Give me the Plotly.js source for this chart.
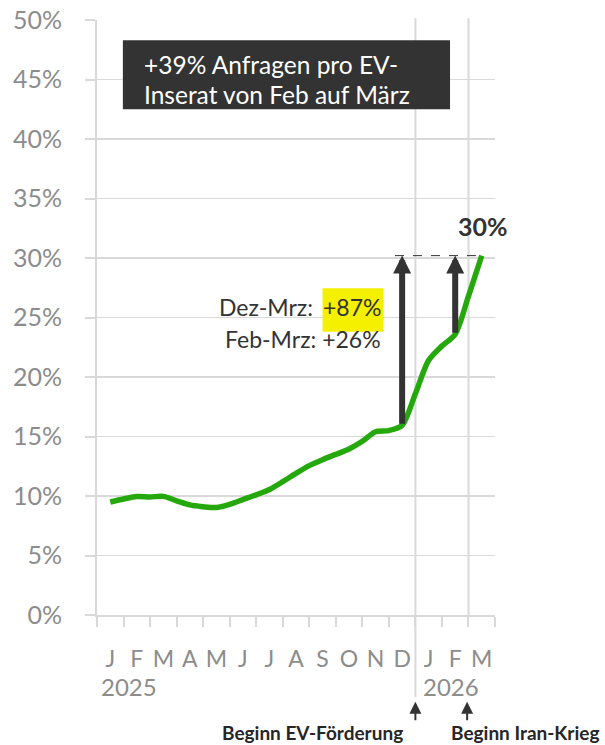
<!DOCTYPE html>
<html>
<head>
<meta charset="utf-8">
<script src="https://cdn.plot.ly/plotly-3.0.1.min.js"></script>
<style>html,body{margin:0;padding:0;background:#fff;}#chart{width:605px;height:745px;}</style>
</head>
<body>
<div id="chart"></div>
<script>
// Month categories (Jan 2025 .. Mar 2026)
var monthLetters = ['J','F','M','A','M','J','J','A','S','O','N','D','J','F','M'];
var yearLabels = ['2025','2026'];
// Semi-monthly sample positions (in months from Jan 2025 start) and share of enquiries per EV listing (%)
var samplePos = [0.5,1.0,1.5,2.0,2.5,3.0,3.5,4.0,4.5,5.0,5.5,6.0,6.5,7.0,7.5,8.0,8.5,9.0,9.5,10.0,10.5,11.0,11.5,12.0,12.5,13.0,13.5,14.0,14.5];
var shareValues = [9.5,9.75,9.95,9.92,9.97,9.6,9.25,9.1,9.03,9.3,9.7,10.1,10.55,11.2,11.9,12.55,13.05,13.5,13.95,14.6,15.4,15.5,15.95,18.6,21.4,22.6,23.6,26.8,30.2];
var yTicks = [0,5,10,15,20,25,30,35,40,45,50];
var yTickText = yTicks.map(function(v){return v+'%';});

var FONT = 'Lato, "Open Sans", sans-serif';
var GRID = '#d9d9d9';
var DARK = '#333333';

var idxDec = samplePos.indexOf(11.5);
var idxFeb = samplePos.indexOf(13.5);
var idxMar = samplePos.length - 1;
var decVal = shareValues[idxDec], febVal = shareValues[idxFeb], marVal = shareValues[idxMar];
var decX = samplePos[idxDec], febX = samplePos[idxFeb], marX = samplePos[idxMar];

var monthCenters = monthLetters.map(function(_, i){return i + 0.5;});
var boundaries = [];
for (var i = 0; i <= monthLetters.length; i++) boundaries.push(i);

var trace = {
  x: samplePos, y: shareValues, type: 'scatter', mode: 'lines',
  line: {color: '#25a80c', width: 5.5, shape: 'spline', smoothing: 0.8},
  hoverinfo: 'skip'
};

var annotations = [];
// box text
annotations.push({xref:'paper', yref:'paper', x:0.113, y:0.926, xanchor:'left', yanchor:'middle', showarrow:false,
  text:'+39% Anfragen pro EV-', font:{family:FONT, size:24.5, color:'#ffffff'}});
annotations.push({xref:'paper', yref:'paper', x:0.113, y:0.874, xanchor:'left', yanchor:'middle', showarrow:false,
  text:'Inserat von Feb auf März', font:{family:FONT, size:24.5, color:'#ffffff'}});
// arrows Dec->Mar, Feb->Mar
annotations.push({x:decX, y:marVal, ax:decX, ay:decVal, xref:'x', yref:'y', axref:'x', ayref:'y', text:'', showarrow:true,
  arrowhead:2, arrowsize:0.6, arrowwidth:6, arrowcolor:DARK, standoff:0});
annotations.push({x:febX, y:marVal, ax:febX, ay:febVal, xref:'x', yref:'y', axref:'x', ayref:'y', text:'', showarrow:true,
  arrowhead:2, arrowsize:0.6, arrowwidth:6, arrowcolor:DARK, standoff:0});
// 30% label
annotations.push({x:marX, y:marVal, xref:'x', yref:'y', yshift:30, xshift:1, showarrow:false, text:'<b>30%</b>',
  font:{family:FONT, size:25, color:DARK}});
// change labels
annotations.push({x:8.2, y:25.88, xref:'x', yref:'y', xanchor:'right', yanchor:'middle', showarrow:false,
  text:'Dez-Mrz:', font:{family:FONT, size:23, color:DARK}});
annotations.push({x:10.78, y:25.88, xref:'x', yref:'y', xanchor:'right', yanchor:'middle', showarrow:false,
  text:'+87%', font:{family:FONT, size:23, color:DARK}});
annotations.push({x:10.78, y:23.19, xref:'x', yref:'y', xanchor:'right', yanchor:'middle', showarrow:false,
  text:'Feb-Mrz: +26%', font:{family:FONT, size:23, color:DARK}});
// year labels
annotations.push({x:1.21, y:-0.121, xref:'x', yref:'paper', xanchor:'center', yanchor:'middle', showarrow:false,
  text:yearLabels[0], font:{family:FONT, size:24, color:'#8c8c8c'}});
annotations.push({x:13.34, y:-0.121, xref:'x', yref:'paper', xanchor:'center', yanchor:'middle', showarrow:false,
  text:yearLabels[1], font:{family:FONT, size:24, color:'#8c8c8c'}});
// event arrows below axis
annotations.push({x:12, y:-0.146, xref:'x', yref:'paper', ax:0, ay:20, text:'', showarrow:true,
  arrowhead:2, arrowsize:1.2, arrowwidth:2, arrowcolor:DARK, standoff:0});
annotations.push({x:13.95, y:-0.146, xref:'x', yref:'paper', ax:0, ay:20, text:'', showarrow:true,
  arrowhead:2, arrowsize:1.2, arrowwidth:2, arrowcolor:DARK, standoff:0});
annotations.push({x:12, y:-0.197, xref:'x', yref:'paper', xanchor:'right', yanchor:'middle', xshift:-10, showarrow:false,
  text:'<b>Beginn EV-Förderung</b>', font:{family:FONT, size:19, color:'#262626'}});
annotations.push({x:14, y:-0.197, xref:'x', yref:'paper', xanchor:'left', yanchor:'middle', xshift:-19, showarrow:false,
  text:'<b>Beginn Iran-Krieg</b>', font:{family:FONT, size:19, color:'#262626'}});

var shapes = [
  {type:'rect', xref:'paper', yref:'paper', x0:0.065, x1:0.887, y0:0.850, y1:0.966, fillcolor:DARK, line:{width:0}, layer:'above'},
  {type:'rect', xref:'x', yref:'y', x0:8.5, x1:10.8, y0:23.8, y1:27.45, fillcolor:'#f5f000', line:{width:0}, layer:'above'},
  {type:'line', xref:'x', yref:'paper', x0:12, x1:12, y0:-0.138, y1:1.003, line:{color:GRID, width:2}, layer:'below'},
  {type:'line', xref:'x', yref:'paper', x0:14, x1:14, y0:0, y1:1.003, line:{color:GRID, width:2}, layer:'below'},
  {type:'line', xref:'x', yref:'y', x0:decX-0.27, x1:marX, y0:marVal, y1:marVal, line:{color:DARK, width:1, dash:'dash'}}
];

var layout = {
  width:605, height:745,
  margin:{l:97, r:110, t:20, b:130},
  paper_bgcolor:'#ffffff', plot_bgcolor:'#ffffff',
  showlegend:false,
  font:{family:FONT},
  xaxis:{
    range:[0, 15], fixedrange:true,
    tickmode:'array', tickvals:monthCenters, ticktext:monthLetters,
    ticks:'outside', ticklen:0.1, tickcolor:'rgba(0,0,0,0)',
    ticklabelstandoff:22,
    tickfont:{family:FONT, size:23, color:'#8c8c8c'},
    showgrid:false, zeroline:false,
    showline:true, linecolor:GRID, linewidth:2,
    minor:{tickmode:'array', tickvals:boundaries, ticks:'outside', ticklen:10, tickcolor:GRID, tickwidth:2, showgrid:false}
  },
  yaxis:{
    range:[0, 50], fixedrange:true,
    tickmode:'array', tickvals:yTicks, ticktext:yTickText,
    ticks:'outside', ticklen:10, tickcolor:GRID, tickwidth:2,
    ticklabelstandoff:18,
    tickfont:{family:FONT, size:25, color:'#8c8c8c'},
    showgrid:true, gridcolor:GRID, gridwidth:1.5,
    zeroline:false, showline:true, linecolor:GRID, linewidth:2
  },
  annotations:annotations,
  shapes:shapes
};

Plotly.newPlot('chart', [trace], layout, {staticPlot:true, displayModeBar:false});
</script>
</body>
</html>
